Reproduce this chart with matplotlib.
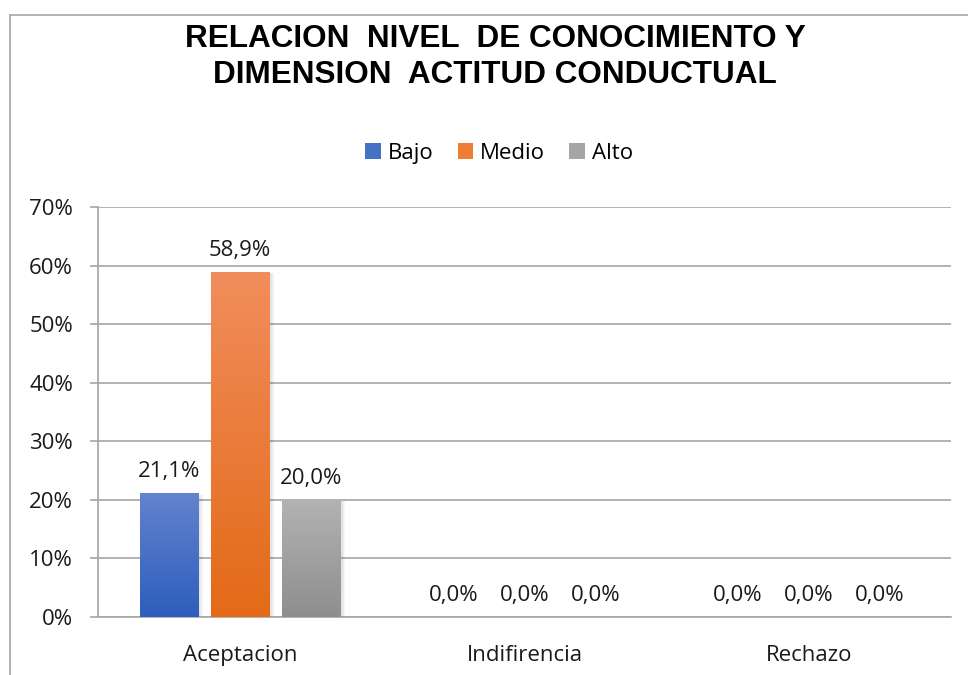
import matplotlib
matplotlib.use("Agg")
import matplotlib.pyplot as plt
import numpy as np
from matplotlib.lines import Line2D
from matplotlib.colors import LinearSegmentedColormap
from matplotlib.patches import Patch

categories = ["Aceptacion", "Indifirencia", "Rechazo"]
series = ["Bajo", "Medio", "Alto"]
bajo = [21.1, 0.0, 0.0]
medio = [58.9, 0.0, 0.0]
alto = [20.0, 0.0, 0.0]
values = [bajo, medio, alto]
yticks = [0, 10, 20, 30, 40, 50, 60, 70]
title = "RELACION  NIVEL  DE CONOCIMIENTO Y\nDIMENSION  ACTITUD CONDUCTUAL"

grad = {
    "Bajo": ("#6383CE", "#2D5EBB"),
    "Medio": ("#F18D5C", "#E36A17"),
    "Alto": ("#B3B3B3", "#8E8E8E"),
}
solid = {"Bajo": "#4472C4", "Medio": "#ED7D31", "Alto": "#A5A5A5"}

plt.rcParams['font.family'] = ['Open Sans', 'DejaVu Sans']
FS = 16

fig = plt.figure(figsize=(9.68, 6.75), dpi=100)
ax = fig.add_axes([0.1012, 0.0859, 0.8812, 0.6074])

x = np.arange(len(categories))
step = 0.25
width = 0.205
ax.set_xlim(-0.5, 2.5)
ax.set_ylim(0, 70)

for i, (name, vals) in enumerate(zip(series, values)):
    pos = x + (i - 1) * step
    # soft shadow
    for k in range(4):
        ax.bar(pos + 0.004 + 0.002 * k, np.array(vals) + 0.15 * k, width + 0.004 * k,
               bottom=-0.2 - 0.15 * k, color="#000000", alpha=0.035, zorder=2, linewidth=0)
    bars = ax.bar(pos, vals, width, color=solid[name], zorder=3, linewidth=0)
    cmap = LinearSegmentedColormap.from_list(name, [grad[name][1], grad[name][0]])
    for b, v in zip(bars, vals):
        if v > 0:
            img = ax.imshow(np.linspace(0, 1, 256).reshape(-1, 1), cmap=cmap, origin="lower",
                            extent=[b.get_x(), b.get_x() + b.get_width(), 0, v],
                            aspect="auto", zorder=4)
            img.set_clip_path(b)
        ax.text(b.get_x() + b.get_width() / 2, v + 1.9, f"{v:.1f}%".replace(".", ","),
                ha="center", va="bottom", fontsize=FS, color="#1a1a1a", zorder=5)

ax.set_xlim(-0.5, 2.5)
ax.set_ylim(0, 70)
ax.set_yticks(yticks)
ax.set_yticklabels([f"{t}%" for t in yticks], fontsize=FS, color="#1a1a1a")
ax.set_xticks(x)
ax.set_xticklabels(categories, fontsize=FS, color="#1a1a1a")
ax.tick_params(axis="x", length=0, pad=20)
ax.tick_params(axis="y", length=6, color="#A6A6A6", width=1.2, pad=12)
ax.yaxis.grid(True, color="#A6A6A6", linewidth=1.2, zorder=0)
ax.set_axisbelow(True)
for s in ["top", "right"]:
    ax.spines[s].set_visible(False)
ax.spines["left"].set_color("#A6A6A6")
ax.spines["left"].set_linewidth(1.2)
ax.spines["bottom"].set_color("#A6A6A6")
ax.spines["bottom"].set_linewidth(1.2)

fig.text(495 / 968, 1 - 57 / 675, title, ha="center", va="center", fontsize=22.7, fontweight="bold",
         family=["Liberation Sans", "DejaVu Sans"], linespacing=1.29)

handles = [Patch(facecolor=solid[n], edgecolor="none") for n in series]
fig.legend(handles, series, loc="center", bbox_to_anchor=(499 / 968, 0.773), ncol=3, frameon=False,
           fontsize=FS, handlelength=0.7, handleheight=0.7, handletextpad=0.3, columnspacing=1.1)

# chart border lines
fig.add_artist(Line2D([10 / 968, 10 / 968], [0, 1 - 15 / 675], transform=fig.transFigure, color="#A6A6A6", linewidth=1.2))
fig.add_artist(Line2D([10 / 968, 1], [1 - 15 / 675, 1 - 15 / 675], transform=fig.transFigure, color="#A6A6A6", linewidth=1.2))

fig.savefig("out.png", dpi=100)
